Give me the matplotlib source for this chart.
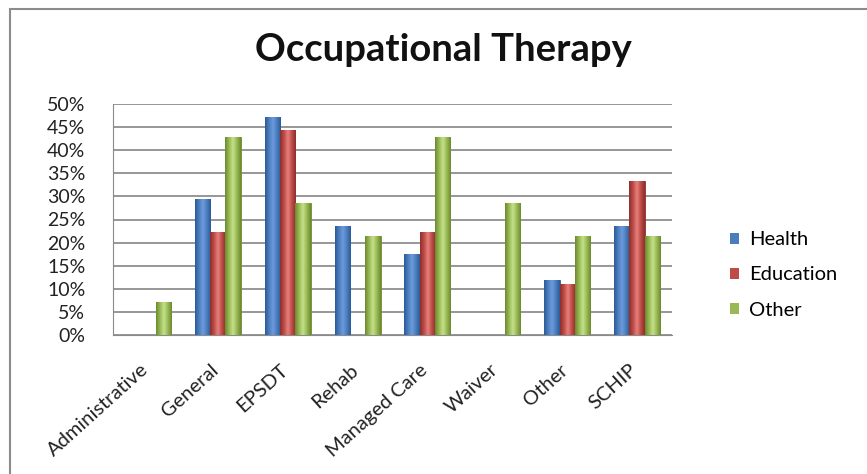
import matplotlib
matplotlib.use("Agg")
import matplotlib.pyplot as plt
import numpy as np
from matplotlib.colors import LinearSegmentedColormap
from matplotlib.patches import Rectangle, Patch

plt.rcParams["font.family"] = ["Lato", "DejaVu Sans"]

# Share of programs (%) covering occupational therapy, by funding source
categories = ["Administrative", "General", "EPSDT", "Rehab", "Managed Care",
              "Waiver", "Other", "SCHIP"]
health = [0, 29.4, 47.1, 23.5, 17.6, 0, 11.8, 23.5]
education = [0, 22.2, 44.4, 0, 22.2, 0, 11.1, 33.3]
other = [7.1, 42.9, 28.6, 21.4, 42.9, 28.6, 21.4, 21.4]
series = {"Health": health, "Education": education, "Other": other}

colors = {"Health": ("#2c5a99", "#6f9be0", "#4a7ebb"),
          "Education": ("#8f2f2c", "#e6807c", "#be4b48"),
          "Other": ("#6c8a2e", "#c5e08a", "#98b954")}

fig = plt.figure(figsize=(8.67, 4.74), dpi=100)
fig.patch.set_facecolor("white")

# chart outer border (only left/top visible in the crop)
fig.add_artist(Rectangle((10 / 867, -0.1), 1.2, 1 - 9 / 474 + 0.1,
                         transform=fig.transFigure, fill=False,
                         edgecolor="#8c8c8c", linewidth=1.5))

ax = fig.add_axes([113 / 867, 1 - 335 / 474, (672 - 113) / 867, (335 - 104) / 474])

x = np.arange(len(categories))
width = 0.22
for k, (name, vals) in enumerate(series.items()):
    dark, light, base = colors[name]
    cmap = LinearSegmentedColormap.from_list(name, [dark, base, light, base, dark])
    grad = np.linspace(0, 1, 64).reshape(1, -1)
    bars = ax.bar(x + (k - 1) * width, vals, width, color=base, edgecolor=dark,
                  linewidth=0.6, zorder=3)
    for b in bars:
        if b.get_height() <= 0:
            continue
        im = ax.imshow(grad, cmap=cmap, aspect="auto", zorder=3.5,
                       extent=(b.get_x(), b.get_x() + b.get_width(), 0, b.get_height()))
        im.set_clip_path(b)

ax.set_xlim(-0.5, len(categories) - 0.5)
ax.set_ylim(0, 50)
ax.set_yticks(np.arange(0, 51, 5))
ax.set_yticklabels([f"{v}%" for v in range(0, 51, 5)], fontsize=14, color="#222222")
ax.tick_params(axis="y", length=0, pad=20)
ax.grid(axis="y", color="#7a7a7a", linewidth=1.1, zorder=0)
for s in ["top", "right"]:
    ax.spines[s].set_visible(False)
ax.spines["left"].set_color("#8a8a8a")
ax.spines["bottom"].set_color("#8a8a8a")

# rotated category labels
ax.set_xticks([])
for pos, lab in zip(x, categories):
    ax.text(pos - 0.03, -0.14, lab, transform=ax.get_xaxis_transform(), rotation=42,
            rotation_mode="anchor", ha="right", va="center", fontsize=14.5,
            color="#222222")

fig.text(0.5115, 0.895, "Occupational Therapy", ha="center", va="center",
         fontsize=27.5, fontweight="bold", color="#111111")

handles = [Patch(facecolor=colors[n][2]) for n in series]
fig.legend(handles, list(series), loc="center left",
           bbox_to_anchor=(712 / 867, 1 - 275 / 474), frameon=False,
           fontsize=14.5, handlelength=0.45, handleheight=0.45, handletextpad=0.5,
           labelspacing=0.9)

fig.savefig("out.png", dpi=100)
